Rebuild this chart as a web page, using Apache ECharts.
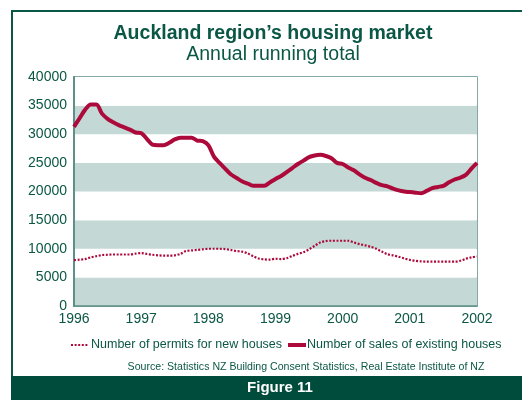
<!DOCTYPE html>
<html>
<head>
<meta charset="utf-8">
<script src="https://cdn.jsdelivr.net/npm/echarts@6/dist/echarts.min.js"></script>
<style>
  html, body { margin: 0; padding: 0; background: #fff; }
  #chart { width: 522px; height: 400px; }
</style>
</head>
<body>
<div id="chart"></div>
<script>
// monthly, Jan 1996 .. Jan 2002
var years = ['1996', '1997', '1998', '1999', '2000', '2001', '2002'];
var permits = [
  8000, 8100, 8200, 8500, 8700, 8900, 8950, 9000, 9000, 9000, 9000, 9150,
  9250, 9100, 8950, 8850, 8800, 8800, 8850, 9100, 9600, 9700, 9800, 9900,
  10000, 10000, 10000, 9950, 9800, 9600, 9500, 9200, 8700, 8300, 8150, 8100,
  8250, 8200, 8350, 8750, 9100, 9400, 9900, 10500, 11100, 11350, 11400, 11400,
  11400, 11400, 11100, 10800, 10600, 10350, 10000, 9500, 9050, 8850, 8600, 8300,
  8050, 7900, 7800, 7750, 7750, 7750, 7750, 7750, 7750, 7900, 8250, 8500,
  8650
];
var sales = [
  31300, 32800, 34300, 35200, 35200, 33600, 32700, 32100, 31600, 31200, 30800, 30300,
  30200, 29200, 28200, 28100, 28100, 28500, 29100, 29400, 29400, 29400, 28900, 28800,
  28100, 26100, 25000, 24000, 23000, 22400, 21800, 21400, 21000, 21000, 21000, 21600,
  22200, 22700, 23400, 24100, 24800, 25400, 26000, 26300, 26400, 26200, 25800, 25000,
  24800, 24200, 23700, 23000, 22400, 22000, 21500, 21100, 20900, 20500, 20200, 20000,
  19900, 19800, 19700, 20100, 20600, 20800, 21000, 21600, 22100, 22400, 22900, 24000,
  25000
];
var months = [];
years.forEach(function (y, i) {
  var n = i < years.length - 1 ? 12 : 1;
  for (var m = 1; m <= n; m++) months.push(y + '-' + (m < 10 ? '0' + m : m));
});

var green = '#0b5745';
var red = '#ad0a3c';
var font = 'Liberation Sans, Arial, sans-serif';
var chart = echarts.init(document.getElementById('chart'));
chart.setOption({
  animation: false,
  textStyle: { fontFamily: font },
  title: [
    {
      text: 'Auckland region\u2019s housing market',
      left: 268, top: 19, textAlign: 'center',
      textStyle: { fontSize: 19.5, fontWeight: 'bold', color: green }
    },
    {
      text: 'Annual running total',
      left: 268, top: 40, textAlign: 'center',
      textStyle: { fontSize: 19.5, fontWeight: 'normal', color: green }
    }
  ],
  grid: { left: 74, right: 45, top: 77, bottom: 94, show: true, borderColor: '#5e8f88', borderWidth: 1.5 },
  xAxis: {
    type: 'category', data: months, boundaryGap: false,
    axisLine: { lineStyle: { color: '#5e8f88', width: 1.5 } },
    axisTick: { show: false },
    axisLabel: {
      interval: 11, color: green, fontSize: 14, margin: 6,
      formatter: function (v) { return v.slice(0, 4); }
    },
    splitLine: { show: false }
  },
  yAxis: {
    type: 'value', min: 0, max: 40000, interval: 5000,
    axisLine: { show: true, lineStyle: { color: '#5e8f88', width: 2 } },
    axisTick: { show: false },
    axisLabel: { color: green, fontSize: 14, margin: 7, formatter: function (v) { return String(v); } },
    splitLine: { show: false },
    splitArea: { show: true, areaStyle: { color: ['#c4d9d6', '#ffffff'] } }
  },
  series: [
    {
      name: 'Number of permits for new houses', type: 'line', data: permits,
      symbol: 'none', smooth: 0.3,
      lineStyle: { color: red, width: 2.2, type: [2, 1.6] }
    },
    {
      name: 'Number of sales of existing houses', type: 'line', data: sales,
      symbol: 'none', smooth: 0.3,
      lineStyle: { color: red, width: 4 }
    }
  ],
  graphic: [
    // frame
    { type: 'line', shape: { x1: 12, y1: 11, x2: 522, y2: 11 }, style: { stroke: green, lineWidth: 2 } },
    { type: 'line', shape: { x1: 12, y1: 10, x2: 12, y2: 377 }, style: { stroke: green, lineWidth: 2 } },
    { type: 'rect', shape: { x: 11, y: 376, width: 511, height: 24 }, style: { fill: '#004c3c' } },
    {
      type: 'text', x: 280, y: 388,
      style: { text: 'Figure 11', fill: '#fff', font: 'bold 15px ' + font, align: 'center', verticalAlign: 'middle' }
    },
    // legend
    { type: 'line', shape: { x1: 71, y1: 345, x2: 89, y2: 345 }, style: { stroke: red, lineWidth: 2.2, lineDash: [2, 1.6] } },
    {
      type: 'text', x: 91, y: 345,
      style: { text: 'Number of permits for new houses', fill: green, font: '12.5px ' + font, verticalAlign: 'middle' }
    },
    { type: 'line', shape: { x1: 288, y1: 345, x2: 306, y2: 345 }, style: { stroke: red, lineWidth: 4 } },
    {
      type: 'text', x: 307, y: 345,
      style: { text: 'Number of sales of existing houses', fill: green, font: '12.5px ' + font, verticalAlign: 'middle' }
    },
    // source
    {
      type: 'text', x: 306, y: 367,
      style: {
        text: 'Source: Statistics NZ Building Consent Statistics, Real Estate Institute of NZ',
        fill: green, font: '10.6px ' + font, align: 'center', verticalAlign: 'middle'
      }
    }
  ]
});
</script>
</body>
</html>
